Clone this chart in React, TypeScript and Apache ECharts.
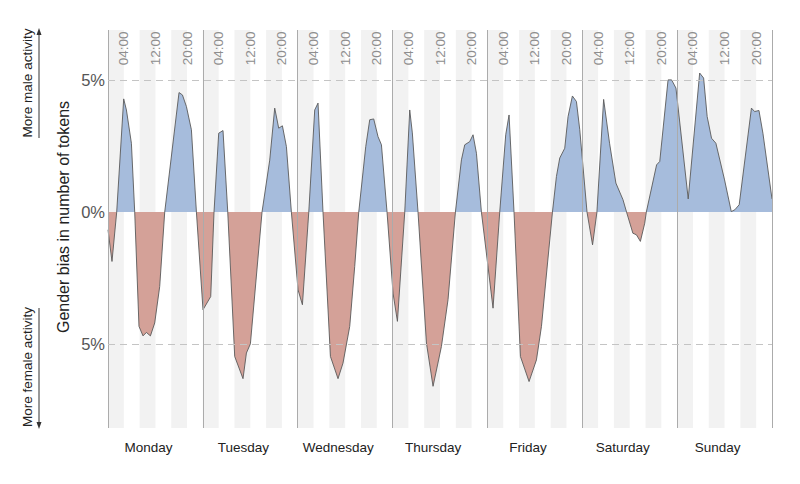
import React, { useEffect, useRef } from "react";
import * as echarts from "echarts";

// ---- data ----
const days = ["Monday", "Tuesday", "Wednesday", "Thursday", "Friday", "Saturday", "Sunday"];
const hourTicks = [4, 12, 20];
const hourTickLabels = ["04:00", "12:00", "20:00"];
const stripeStarts = [0, 8, 16];
const stripeLength = 4;
const yTicks = [-5, 0, 5];

// hour of the week (0..168) where the outline bends
const hours = [
  0, 1.01, 2.2, 3.97, 4.66, 5.92, 6.76, 7.84, 8.86, 9.72, 10.73, 11.82, 13.08, 14.35, 17.97, 18.83, 19.84, 21.1, 22.37,
  24.04, 25.99, 26.82, 28.01, 29.1, 30.3, 32.06, 34.16, 35.02, 36.03, 38.97, 40.92, 42.18, 43.19, 44.13, 45.14, 46.4,
  48.08, 49.19, 50.8, 52.3, 53.14, 54.4, 56.28, 58.2, 59.46, 61.16, 62.42, 63.44, 65.21, 66.22, 67.23, 68.32, 69.18, 70.6,
  72.12, 73.23, 75.08, 76.34, 77.0, 78.44, 80.57, 82.24, 84.36, 86.03, 87.9, 89.42, 90.26, 91.52, 92.36, 93.22, 94.48,
  97.42, 99.11, 100.63, 101.47, 102.73, 104.35, 106.53, 108.4, 109.67, 112.45, 113.46, 114.3, 115.56, 116.4, 117.5, 118.52, 119.36,
  121.2, 122.6, 123.7, 125.4, 126.9, 128.5, 130.3, 131.2, 132.8, 133.7, 134.7, 135.8, 136.2, 138.8, 139.6, 141.7, 142.6, 143.7,
  146.8, 149.7, 150.7, 151.6, 152.7, 153.8, 156.0, 157.7, 158.6, 159.7, 162.8, 163.6, 164.7, 165.7, 168,
];
// gender bias in % (positive = more male)
const bias = [
  -0.67, -1.87, 0, 4.29, 3.87, 2.61, 0, -4.33, -4.69, -4.56, -4.69, -4.2, -2.82, 0, 4.53, 4.44, 4.0, 3.12, 0,
  -3.7, -3.2, 0, 2.99, 3.09, 0, -5.47, -6.31, -5.34, -4.99, 0, 1.97, 3.94, 3.18, 3.27, 2.48, 0,
  -2.94, -3.51, 0, 3.87, 4.13, 0, -5.47, -6.31, -5.72, -4.33, -2.06, 0, 2.48, 3.5, 3.53, 2.86, 2.55, 0,
  -3.07, -4.14, 0, 3.87, 3.0, 0, -4.96, -6.6, -5.09, -3.32, 0, 1.98, 2.55, 2.67, 2.93, 2.23, 0,
  -3.64, 0, 2.93, 3.68, 0, -5.47, -6.42, -5.6, -4.33, 0, 1.35, 2.05, 2.42, 3.62, 4.4, 4.19, 3.12,
  0, -1.24, 0, 4.27, 2.61, 1.1, 0.47, 0, -0.8, -0.86, -1.11, -0.42, 0, 1.79, 1.92, 5.01, 5.01, 4.7,
  0.5, 5.27, 5.08, 3.62, 2.8, 2.61, 1.22, 0.02, 0.09, 0.28, 3.94, 3.81, 3.85, 2.99, 0.5,
];

const Y_MIN = -8.18;
const Y_MAX = 6.9;
const DAY_LABEL_HOUR = 10.25;
const FONT = '"Liberation Sans", Arial, Helvetica, sans-serif';
const BLUE = "#a6bcdc";
const RED = "#d4a198";

export default function App() {
  const ref = useRef<HTMLDivElement>(null);

  useEffect(() => {
    if (!ref.current) return;
    const chart = echarts.init(ref.current, null, { renderer: "svg" });
    const points = hours.map((h, i) => [h, bias[i]]);

    const sepLines: any[] = [];
    for (let d = 0; d <= days.length; d++) {
      sepLines.push({ xAxis: d * 24, lineStyle: { color: "#ababab", width: 1, type: "solid" } });
    }
    const dashLines = [5, -5].map((v) => ({
      yAxis: v,
      lineStyle: { color: "#c4c4c4", width: 1, type: [7, 5] },
    }));

    const option: any = {
      animation: false,
      backgroundColor: "#ffffff",
      grid: { left: 108, right: 28, top: 30, bottom: 56 },
      xAxis: { type: "value", min: 0, max: 168, show: false },
      yAxis: { type: "value", min: Y_MIN, max: Y_MAX, show: false },
      visualMap: {
        type: "piecewise",
        show: false,
        dimension: 1,
        seriesIndex: 1,
        pieces: [
          { gte: -20, lt: 0, color: RED },
          { gte: 0, lte: 20, color: BLUE },
        ],
      },
      graphic: [
        {
          type: "text",
          x: 27,
          y: 83,
          rotation: Math.PI / 2,
          style: { text: "More male activity", fill: "#222", font: `13.5px ${FONT}`, align: "center", verticalAlign: "middle" },
        },
        { type: "line", shape: { x1: 39, y1: 138, x2: 39, y2: 33 }, style: { stroke: "#333", lineWidth: 1 } },
        { type: "polygon", shape: { points: [[39, 28], [36.5, 35], [41.5, 35]] }, style: { fill: "#333" } },
        {
          type: "text",
          x: 27,
          y: 367,
          rotation: Math.PI / 2,
          style: { text: "More female activity", fill: "#222", font: `13.5px ${FONT}`, align: "center", verticalAlign: "middle" },
        },
        { type: "line", shape: { x1: 39, y1: 308, x2: 39, y2: 424 }, style: { stroke: "#333", lineWidth: 1 } },
        { type: "polygon", shape: { points: [[39, 429], [36.5, 422], [41.5, 422]] }, style: { fill: "#333" } },
        {
          type: "text",
          x: 63,
          y: 217,
          rotation: Math.PI / 2,
          style: { text: "Gender bias in number of tokens", fill: "#222", font: `16px ${FONT}`, align: "center", verticalAlign: "middle" },
        },
      ],
      series: [
        {
          type: "custom",
          z: 1,
          silent: true,
          data: days.map((_, i) => [i * 24, 0]),
          renderItem: (params: any, api: any) => {
            const d = api.value(0);
            const top = api.coord([d, Y_MAX])[1];
            const bot = api.coord([d, Y_MIN])[1];
            const children: any[] = [];
            stripeStarts.forEach((s) => {
              const xa = api.coord([d + s, 0])[0];
              const xb = api.coord([d + s + stripeLength, 0])[0];
              children.push({
                type: "rect",
                shape: { x: xa, y: top, width: xb - xa, height: bot - top },
                style: { fill: "#f2f2f2" },
              });
            });
            hourTicks.forEach((h, k) => {
              const x = api.coord([d + h, 0])[0];
              children.push({
                type: "text",
                x: x,
                y: top + 1.5,
                rotation: Math.PI / 2,
                style: { text: hourTickLabels[k], fill: "#8e8e8e", font: `13.5px ${FONT}`, align: "right", verticalAlign: "middle" },
              });
            });
            const lx = api.coord([d + DAY_LABEL_HOUR, 0])[0];
            children.push({
              type: "text",
              x: lx,
              y: bot + 19.5,
              style: { text: days[params.dataIndex], fill: "#222", font: `13.5px ${FONT}`, align: "center", verticalAlign: "middle" },
            });
            return { type: "group", children };
          },
        },
        {
          type: "line",
          z: 2,
          data: points,
          showSymbol: false,
          silent: true,
          lineStyle: { width: 0, opacity: 0 },
          areaStyle: { opacity: 1, origin: 0 },
        },
        {
          type: "line",
          z: 3,
          data: points,
          showSymbol: false,
          silent: true,
          color: "#5a5a5a",
          lineStyle: { width: 0.9, color: "#5a5a5a" },
          markLine: {
            silent: true,
            symbol: "none",
            label: { show: false },
            data: [...sepLines, ...dashLines],
          },
        },
        {
          type: "custom",
          z: 4,
          silent: true,
          data: yTicks.map((v) => [0, v]),
          renderItem: (params: any, api: any) => {
            const p = api.coord([0, api.value(1)]);
            return {
              type: "text",
              x: p[0] - 3,
              y: p[1],
              style: {
                text: Math.abs(yTicks[params.dataIndex]) + "%",
                fill: "#555",
                font: `16.5px ${FONT}`,
                align: "right",
                verticalAlign: "middle",
              },
            };
          },
        },
      ],
    };
    chart.setOption(option);
    return () => chart.dispose();
  }, []);

  return <div ref={ref} style={{ position: "absolute", left: 0, top: 0, width: 800, height: 484 }} />;
}
